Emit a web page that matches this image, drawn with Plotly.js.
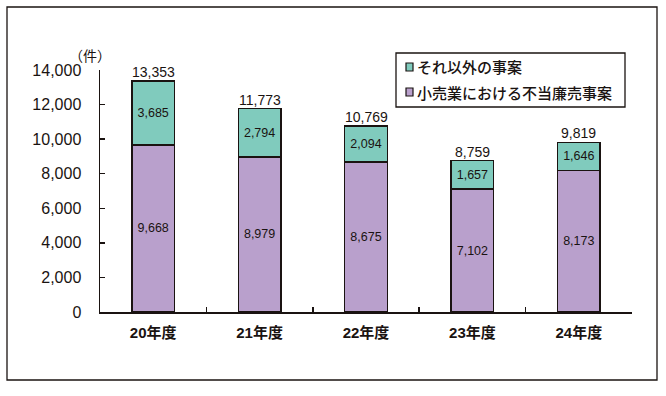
<!DOCTYPE html>
<html>
<head>
<meta charset="utf-8">
<script src="https://cdn.plot.ly/plotly-3.0.1.min.js"></script>
<style>html,body{margin:0;padding:0;background:#fff;}#chart{width:666px;height:396px;}</style>
</head>
<body>
<div id="chart"></div>
<script>
var categories = ["20年度", "21年度", "22年度", "23年度", "24年度"];
var retailValues = [9668, 8979, 8675, 7102, 8173];
var otherValues = [3685, 2794, 2094, 1657, 1646];
var retailName = "小売業における不当廉売事案";
var otherName = "それ以外の事案";
var yTickVals = [0, 2000, 4000, 6000, 8000, 10000, 12000, 14000];
var unitLabel = "（件）";

var purple = "#b9a0cc";
var teal = "#80cbbd";
var ink = "#1a1311";
var FONT = "Liberation Sans, Arial, 'Noto Sans CJK JP', sans-serif";
var CJK = "'Noto Sans CJK JP', sans-serif";

var W = 666, H = 396, L = 100, R = 34, T = 70, B = 84;
var pw = W - L - R, ph = H - T - B;
function px(x) { return (x - L) / pw; }
function py(y) { return (H - B - y) / ph; }

var totals = retailValues.map(function (v, i) { return v + otherValues[i]; });

var barCommon = {
  type: "bar",
  x: categories,
  texttemplate: "%{y:,}",
  textposition: "inside",
  insidetextanchor: "middle",
  textangle: 0,
  constraintext: "none",
  textfont: { family: FONT, size: 12.5, color: ink },
  hoverinfo: "skip",
  showlegend: false
};

var traces = [
  Object.assign({}, barCommon, {
    name: retailName, y: retailValues,
    marker: { color: purple, line: { color: ink, width: 1.5 } }
  }),
  Object.assign({}, barCommon, {
    name: otherName, y: otherValues,
    marker: { color: teal, line: { color: ink, width: 1.5 } }
  })
];

var annotations = categories.map(function (c, i) {
  return {
    x: c, y: totals[i], xref: "x", yref: "y",
    text: totals[i].toLocaleString("en-US"),
    showarrow: false, yanchor: "bottom", yshift: -1,
    font: { family: FONT, size: 14, color: ink }
  };
});
annotations.push({
  xref: "paper", yref: "paper", x: px(90), y: py(55),
  text: unitLabel, showarrow: false, xanchor: "center", yanchor: "middle",
  font: { family: CJK, size: 14, color: ink }
});
annotations.push({
  xref: "paper", yref: "paper", x: px(415), y: py(67),
  text: otherName, showarrow: false, xanchor: "left", yanchor: "middle",
  font: { family: CJK, size: 15, color: ink, weight: 500 }
});
annotations.push({
  xref: "paper", yref: "paper", x: px(415), y: py(92),
  text: retailName, showarrow: false, xanchor: "left", yanchor: "middle",
  font: { family: CJK, size: 15, color: ink, weight: 500 }
});

var shapes = [
  { type: "rect", xref: "paper", yref: "paper", x0: px(7), x1: px(657), y0: py(380), y1: py(7),
    line: { color: ink, width: 1.3 }, fillcolor: "rgba(0,0,0,0)", layer: "below" },
  { type: "rect", xref: "paper", yref: "paper", x0: px(396), x1: px(625), y0: py(107), y1: py(53),
    line: { color: ink, width: 1.3 }, fillcolor: "#fff" },
  { type: "rect", xref: "paper", yref: "paper", x0: px(406), x1: px(413), y0: py(71), y1: py(63),
    line: { color: ink, width: 1.2 }, fillcolor: teal },
  { type: "rect", xref: "paper", yref: "paper", x0: px(406), x1: px(413), y0: py(96), y1: py(88),
    line: { color: ink, width: 1.2 }, fillcolor: purple }
];

var layout = {
  width: W, height: H,
  margin: { l: L, r: R, t: T, b: B, pad: 0 },
  paper_bgcolor: "#fff", plot_bgcolor: "#fff",
  barmode: "stack",
  bargap: 0.6,
  showlegend: false,
  font: { family: FONT, color: ink },
  xaxis: {
    type: "category",
    showline: true, linecolor: ink, linewidth: 1.5,
    ticks: "inside", tickson: "boundaries", ticklen: 5, tickwidth: 1.5, tickcolor: ink,
    showgrid: false, zeroline: false,
    tickfont: { family: FONT, size: 15, color: ink, weight: "bold" },
    ticklabelstandoff: 6
  },
  yaxis: {
    range: [0, 14000],
    tickvals: yTickVals,
    ticktext: yTickVals.map(function (v) { return v.toLocaleString("en-US"); }),
    showline: true, linecolor: ink, linewidth: 1.5,
    ticks: "inside", ticklen: 5, tickwidth: 1.5, tickcolor: ink,
    showgrid: false, zeroline: false,
    tickfont: { family: FONT, size: 16, color: ink },
    ticklabelstandoff: 14
  },
  annotations: annotations,
  shapes: shapes
};

Plotly.newPlot("chart", traces, layout, { staticPlot: true, displayModeBar: false });
</script>
</body>
</html>
